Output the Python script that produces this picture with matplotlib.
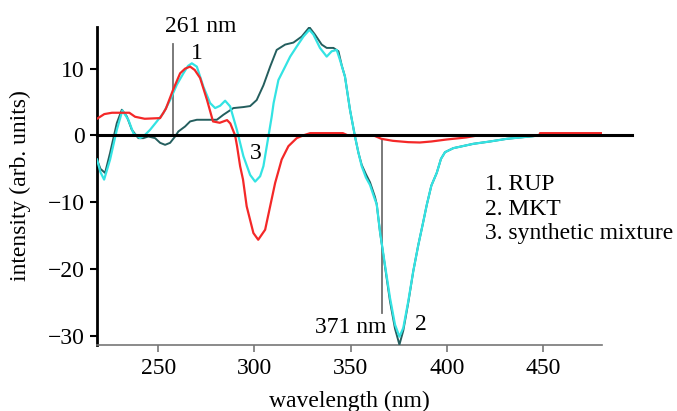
import matplotlib
matplotlib.use("Agg")
import matplotlib.pyplot as plt

# ---- data ----
rup_x = [218.2, 222, 226, 235, 238, 243, 251, 254, 257.7, 261.4, 264, 266.6, 269, 271.8,
         275.4, 278.5, 282, 285.8, 287.5, 288.4, 290, 291, 292.6, 294.1, 296, 299.5, 302,
         305.6, 308.2, 310.8, 314.2, 317.7, 322, 325.3, 329, 346, 348.7, 362, 366, 372,
         380, 386, 392, 400, 410, 416, 448, 448.5, 480.7]
rup_y = [2.5, 3.2, 3.4, 3.4, 2.8, 2.5, 2.6, 4.0, 6.8, 9.3, 10.0, 10.3, 9.8, 8.6,
         5.3, 2.1, 1.9, 2.3, 1.8, 1.15, 0.0, -1.6, -4.6, -6.6, -10.6, -14.6, -15.6,
         -14.1, -10.6, -7.1, -3.6, -1.6, -0.4, 0.0, 0.35, 0.35, 0.0, 0.0, -0.5, -0.8,
         -1.0, -1.05, -0.9, -0.6, -0.3, 0.0, 0.0, 0.35, 0.35]

mkt_x = [218.2, 220, 222.4, 225, 228.5, 231.1, 233.7, 236.3, 239.7, 242.3, 244.9, 248.4,
         251, 253.6, 256.2, 258.8, 260.5, 264, 266.6, 270.1, 274.4, 280.5, 283.9, 289.1,
         294.3, 297.8, 301.2, 304.7, 308.2, 311.6, 316, 320.3, 324.6, 328.6, 331.5, 335,
         337.6, 341.1, 343.7, 345.4, 347.1, 349.7, 352.3, 354.1, 355.8, 358, 360.1, 362.7,
         363.6, 365.3, 367.9, 370.5, 373.1, 375.4, 377.4, 380, 382.6, 385.2, 387.8, 389.6,
         392, 394.8, 397, 399.1, 403.4, 413.8, 422.5, 431.2, 445]
mkt_y = [-3.6, -5.0, -5.6, -2.6, 1.85, 3.85, 2.85, 0.85, -0.4, -0.4, -0.15, -0.4,
         -1.1, -1.4, -1.1, -0.15, 0.6, 1.35, 2.1, 2.35, 2.35, 2.35, 3.1, 4.1,
         4.25, 4.4, 5.3, 7.5, 10.3, 12.8, 13.6, 13.9, 14.8, 16.2, 15.1, 13.6,
         13.1, 13.1, 12.6, 10.5, 8.8, 3.85, -0.15, -2.6, -4.4, -5.8, -7.0, -9.2,
         -10.3, -14.4, -19.6, -24.8, -28.9, -31.3, -29.2, -25.0, -20.3, -16.4, -12.9, -10.4,
         -7.5, -5.6, -3.5, -2.5, -1.9, -1.25, -0.9, -0.5, -0.1]

mix_x = [218.2, 220, 221.9, 225, 228.5, 231.4, 234.5, 237.1, 240.6, 243.2, 245.8, 249.3,
         252.7, 256.2, 259.7, 263.1, 265.5, 267.5, 270.1, 273.5, 277, 279.6, 282.2, 284.8,
         287.4, 290.9, 294.3, 297.8, 300.4, 303, 304.7, 307.3, 309, 310, 312.5, 316, 318.6,
         322, 325.5, 328.6, 330.7, 334.1, 337.6, 340.2, 342.8, 344.5, 347.1, 349.7, 352.3,
         354.1, 355.8, 358, 360.1, 362.7, 363.6, 365.3, 367.9, 370.5, 373.1, 375.4, 377.4,
         380, 382.6, 385.2, 387.8, 389.6, 392, 394.8, 397, 399.1, 403.4, 413.8, 422.5,
         431.2, 445]
mix_y = [-3.6, -5.5, -6.6, -3.6, 0.85, 3.75, 2.35, 0.35, -0.4, 0.1, 0.85, 2.1,
         3.35, 5.3, 7.6, 9.3, 10.4, 10.8, 10.3, 7.3, 4.85, 4.1, 4.45, 5.2,
         4.35, 0.85, -3.1, -5.9, -6.9, -6.1, -4.6, -0.15, 2.8, 4.85, 8.3, 10.3, 11.8,
         13.3, 14.8, 15.8, 15.1, 13.1, 11.8, 12.6, 12.8, 11.3, 8.8, 3.85, -0.15,
         -2.6, -4.6, -6.3, -7.4, -9.6, -10.3, -14.4, -19.4, -24.3, -28.3, -30.1, -28.8,
         -24.8, -20.3, -16.4, -12.9, -10.4, -7.5, -5.6, -3.5, -2.5, -1.9, -1.25, -0.9,
         -0.5, -0.1]

x_ticks = [250, 300, 350, 400, 450]
y_ticks = [-30, -20, -10, 0, 10]
y_tick_labels = ["\u221230", "\u221220", "\u221210", "0", "10"]
legend_lines = ["1. RUP", "2. MKT", "3. synthetic mixture"]
marker_lines = [(257.6, 13.7, 0.0, "261 nm"), (366.5, -0.6, -26.5, "371 nm")]

# ---- figure ----
plt.rcParams['font.family'] = ['Liberation Serif', 'DejaVu Serif']
FS = 17
fig = plt.figure(figsize=(6.77, 4.11), dpi=100)
ax = fig.add_axes([97/677, 1-345/411, 505/677, 318/411])

ax.plot(mkt_x, mkt_y, color='#245e5e', lw=1.4, zorder=3)
ax.plot(mix_x, mix_y, color='#33e3e3', lw=1.6, zorder=4)
ax.plot(rup_x, rup_y, color='#f42828', lw=1.6, zorder=5)

# zero line extends beyond the axis end
ax.plot([218.2, 496.3], [0, 0], color='black', lw=2.2, zorder=6, clip_on=False)

# marker lines
for (xm, y0, y1, _) in marker_lines:
    ax.plot([xm, xm], [y0, y1], color='#707070', lw=1.3, zorder=2)

ax.text(272.2, 15.48, "261 nm", fontsize=FS, ha='center', va='baseline')
ax.text(270.2, 11.44, "1", fontsize=FS, ha='center', va='baseline')
ax.text(300.9, -3.53, "3", fontsize=FS, ha='center', va='baseline')
ax.text(350.3, -29.5, "371 nm", fontsize=FS, ha='center', va='baseline')
ax.text(386.6, -29.1, "2", fontsize=FS, ha='center', va='baseline')
for i, s in enumerate(legend_lines):
    ax.text(419.9, -8.23 - 3.64 * i, s, fontsize=FS, ha='left', va='baseline')

ax.set_xlim(218.2, 480.7)
ax.set_ylim(-31.35, 16.23)
ax.set_xticks(x_ticks)
ax.set_xticklabels([str(t) for t in x_ticks])
ax.set_yticks(y_ticks)
ax.set_yticklabels(y_tick_labels)

for s in ['top', 'right']:
    ax.spines[s].set_visible(False)
ax.spines['left'].set_color('black')
ax.spines['left'].set_linewidth(2.0)
ax.spines['bottom'].set_color('#777777')
ax.spines['bottom'].set_linewidth(1.2)

ax.tick_params(axis='y', direction='out', length=5, width=1.5, color='black',
               labelsize=FS, pad=4)
ax.tick_params(axis='x', direction='out', length=5, width=1.2, color='#777777',
               labelsize=FS, pad=4)

ax.set_xlabel("wavelength (nm)", fontsize=FS, labelpad=9)
ax.set_ylabel("intensity (arb. units)", fontsize=FS, labelpad=12)

fig.savefig("out.png", dpi=100)
